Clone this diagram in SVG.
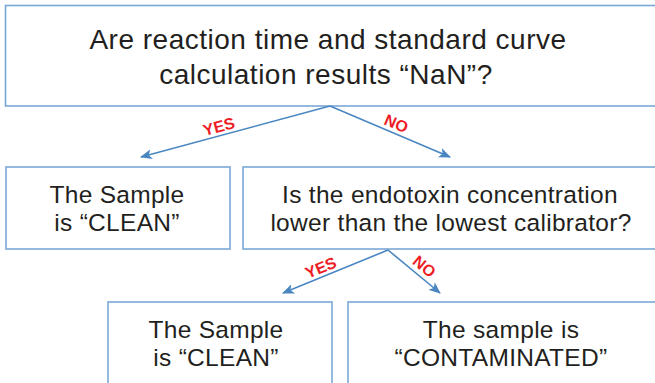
<svg xmlns="http://www.w3.org/2000/svg" width="655" height="383" viewBox="0 0 655 383">
  <style>
    .box { fill: #ffffff; stroke: #7aa7d6; stroke-width: 1.6; }
    .t { font-family: "Liberation Sans", Arial, Helvetica, sans-serif; fill: #231f20; text-anchor: middle; }
    .t1 { font-size: 28px; letter-spacing: 0.5px; }
    .t2 { font-size: 24.5px; letter-spacing: 0.3px; }
    .conn { stroke: #4a87c2; stroke-width: 1.6; fill: none; }
    .lbl { font-family: "Liberation Sans", Arial, sans-serif; font-weight: bold; font-size: 16px; fill: #ee1c25; text-anchor: middle; }
  </style>
  <defs>
    <marker id="arr" viewBox="0 0 12 10" refX="11" refY="5" markerWidth="12" markerHeight="10" markerUnits="userSpaceOnUse" orient="auto">
      <path d="M0,0 L12,5 L0,10 L3,5 Z" fill="#4a87c2"/>
    </marker>
  </defs>
  <rect width="655" height="383" fill="#ffffff"/>

  <g id="q1">
    <rect class="box" x="5.5" y="5.5" width="660" height="100.5"/>
    <text class="t t1" x="328" y="49">Are reaction time and standard curve</text>
    <text class="t t1" x="326" y="84">calculation results “NaN”?</text>
  </g>

  <g id="clean1">
    <rect class="box" x="6" y="167" width="224" height="82"/>
    <text class="t t2" x="117" y="203">The Sample</text>
    <text class="t t2" x="117" y="231">is “CLEAN”</text>
  </g>

  <g id="q2">
    <rect class="box" x="243" y="167" width="420" height="82"/>
    <text class="t t2" x="450" y="203">Is the endotoxin concentration</text>
    <text class="t t2" x="451" y="231">lower than the lowest calibrator?</text>
  </g>

  <g id="clean2">
    <rect class="box" x="108" y="302" width="224" height="90"/>
    <text class="t t2" x="216" y="338">The Sample</text>
    <text class="t t2" x="216" y="366">is “CLEAN”</text>
  </g>

  <g id="contaminated">
    <rect class="box" x="348" y="302" width="320" height="90"/>
    <text class="t t2" x="501" y="338">The sample is</text>
    <text class="t t2" x="501" y="366">“CONTAMINATED”</text>
  </g>

  <g id="connectors">
    <line class="conn" x1="330" y1="106" x2="141" y2="157" marker-end="url(#arr)"/>
    <line class="conn" x1="330" y1="106" x2="450" y2="157" marker-end="url(#arr)"/>
    <line class="conn" x1="388" y1="250" x2="283" y2="293" marker-end="url(#arr)"/>
    <line class="conn" x1="388" y1="250" x2="440" y2="293" marker-end="url(#arr)"/>
    <text class="lbl" transform="translate(219,127) rotate(-15)" y="5">YES</text>
    <text class="lbl" transform="translate(396,124) rotate(23)" y="5">NO</text>
    <text class="lbl" transform="translate(321,268) rotate(-22)" y="5">YES</text>
    <text class="lbl" transform="translate(424,267) rotate(40)" y="5">NO</text>
  </g>
</svg>
